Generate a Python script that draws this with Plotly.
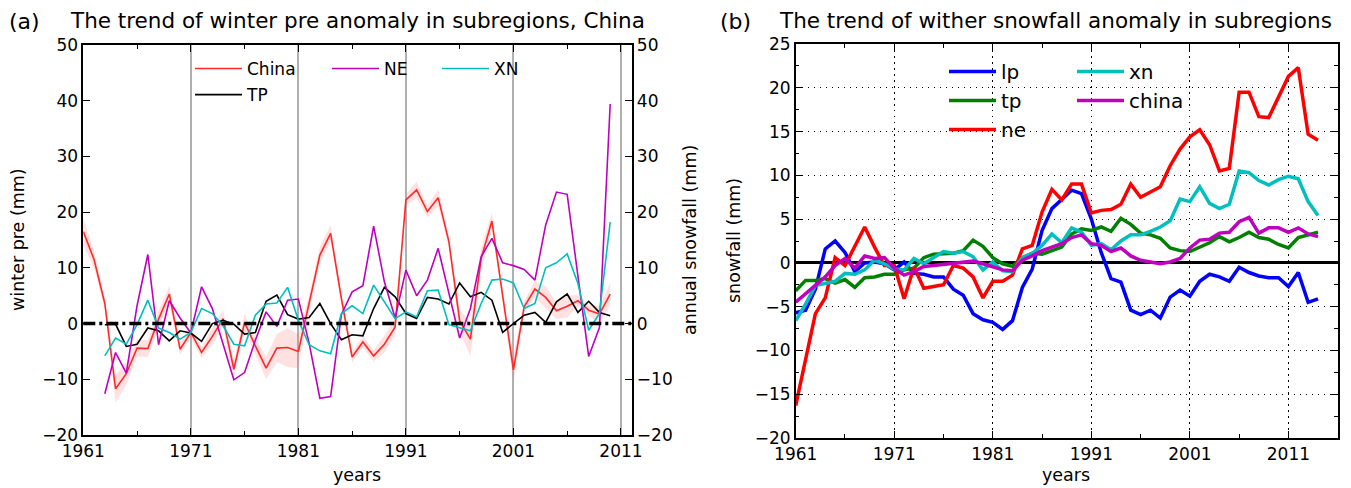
import plotly.graph_objects as go

# ---------------- data: panel (a) ----------------
years_a = list(range(1961, 2011))
years_a2 = list(range(1963, 2011))
china_a = [16.5, 11.5, 3.6, -11.7, -9.0, -4.4, -4.5, 0.8, 5.3, -4.6,
           -1.6, -5.2, -2.3, 0.9, -8.2, 0.2, -4.0, -8.0, -4.4, -4.3,
           -5.0, 3.5, 12.3, 16.2, 4.5, -6.0, -3.3, -5.8, -3.7, -0.6,
           22.2, 24.0, 20.1, 22.6, 14.7, 0.5, -2.8, 11.7, 18.4, 5.0,
           -8.3, 3.0, 6.2, 4.7, 2.3, 3.1, 4.1, 2.4, 1.7, 5.3]
china_spread = [2.5, 1.5, 1.0, 2.5, 2.0, 1.5, 1.5, 1.5, 1.5, 1.0,
                1.0, 1.0, 1.5, 1.5, 1.5, 1.5, 1.5, 2.0, 2.5, 3.5,
                3.0, 1.5, 1.5, 1.5, 1.0, 1.0, 1.0, 1.0, 1.5, 1.5,
                1.0, 1.5, 1.0, 1.5, 1.0, 2.0, 3.0, 2.0, 1.5, 1.0,
                2.5, 1.0, 1.5, 2.0, 1.5, 2.0, 1.0, 1.0, 1.5, 2.0]
ne_a = [-12.6, -5.2, -8.9, 3.2, 12.4, -3.8, 4.1, 1.0, -1.7, 6.6,
        2.7, -3.5, -10.1, -8.8, -3.0, 2.1, -0.5, 4.2, 4.4, -3.5,
        -13.4, -13.1, 1.6, 5.7, 6.8, 17.5, 7.5, 1.0, 9.6, 5.0,
        7.8, 13.5, 5.5, -2.6, 2.7, 12.0, 15.3, 10.9, 10.4, 9.7,
        7.8, 17.7, 23.6, 23.2, 8.5, -5.9, -0.7, 39.4]
xn_a = [-5.8, -2.6, -3.7, -0.2, 4.2, -0.8, -1.6, -2.8, -1.6, 2.7,
        1.8, -0.4, -3.7, -4.0, 1.5, 3.5, 3.7, 6.5, 0.6, -3.8,
        -4.9, -5.4, 1.8, 3.2, 1.8, 6.9, 3.9, 0.9, 2.1, 1.2,
        5.9, 6.0, -0.2, -0.7, -1.3, 3.6, 7.8, 8.0, 7.3, 2.7,
        3.6, 10.0, 10.9, 12.5, 7.2, -1.2, 1.8, 18.2]
tp_a = [-0.2, -0.1, -4.1, -3.7, -0.8, -1.3, -3.1, -1.3, -1.7, -3.2,
        0.0, 0.6, -0.1, -1.9, -1.6, 4.0, 5.1, 1.6, 0.8, 1.1,
        3.6, 0.0, -2.9, -2.0, -2.2, 2.7, 6.5, 4.8, 1.8, 0.9,
        4.7, 4.4, 3.5, 7.3, 4.8, 5.6, 4.2, -1.6, 0.0, 1.5,
        2.0, 0.2, 3.9, 5.3, 2.0, 4.0, 2.0, 1.4]

# ---------------- data: panel (b) ----------------
years_b = list(range(1961, 2015))
lp_b = [-5.7, -5.4, -3.0, 1.6, 2.5, 1.2, -1.0, 0.0, 0.1, -0.1,
        -0.8, 0.1, -1.2, -1.3, -1.6, -1.6, -3.0, -3.7, -5.8, -6.5,
        -6.8, -7.6, -6.6, -2.8, -0.7, 3.7, 6.2, 7.3, 8.3, 7.9,
        5.0, 1.2, -1.8, -2.2, -5.4, -5.9, -5.4, -6.3, -3.9, -3.1,
        -3.8, -2.1, -1.3, -1.6, -2.1, -0.5, -1.1, -1.5, -1.7, -1.7,
        -2.7, -1.1, -4.5, -4.1]
tp_b = [-3.2, -2.0, -2.0, -1.8, -2.3, -1.9, -2.8, -1.7, -1.6, -1.3,
        -1.3, -0.8, -0.6, 0.6, 1.0, 1.1, 1.1, 1.4, 2.6, 1.9,
        0.6, -0.1, -0.4, 0.6, 1.1, 1.0, 1.4, 1.8, 3.3, 3.9,
        3.7, 4.1, 3.6, 5.1, 4.4, 3.4, 3.2, 2.8, 1.7, 1.4,
        1.3, 1.8, 2.3, 3.0, 2.4, 2.9, 3.5, 2.9, 2.7, 2.1,
        1.7, 2.9, 3.2, 3.5]
ne_b = [-16.3, -11.0, -5.8, -4.0, 0.6, -0.3, 1.8, 4.1, 1.8, -0.3,
        -0.3, -4.1, -0.5, -2.9, -2.7, -2.5, -0.3, -0.6, -1.6, -4.0,
        -2.1, -2.1, -1.4, 1.6, 2.0, 5.8, 8.4, 7.2, 9.0, 9.0,
        5.7, 6.0, 6.1, 6.7, 9.0, 7.5, 8.1, 8.7, 11.1, 13.0,
        14.4, 15.2, 13.5, 10.5, 10.8, 19.5, 19.5, 16.7, 16.6, 18.9,
        21.3, 22.3, 14.7, 14.0]
xn_b = [-6.6, -4.7, -2.6, -2.4, -2.1, -1.2, -1.3, -0.8, 0.3, -0.1,
        -0.7, -0.8, 0.5, -0.1, 0.6, 1.3, 1.1, 1.3, 0.7, -0.8,
        0.1, -0.9, -1.0, 0.6, 1.1, 2.0, 3.3, 2.3, 4.0, 3.5,
        2.0, 2.2, 1.5, 2.5, 3.2, 3.2, 3.6, 4.1, 4.8, 7.3,
        7.0, 8.7, 6.8, 6.2, 6.7, 10.5, 10.3, 9.4, 8.9, 9.5,
        9.9, 9.6, 7.0, 5.4]
china_b = [-4.5, -3.5, -2.6, -1.6, -0.3, 0.5, -0.6, 0.8, 0.5, 0.6,
           -0.6, -1.4, -1.0, -0.4, -0.3, -0.2, -0.1, 0.0, 0.2, -0.1,
           -0.4, -0.8, -0.9, 0.3, 0.8, 1.4, 1.8, 2.2, 2.9, 3.2,
           2.2, 2.0, 1.3, 1.7, 0.8, 0.3, 0.1, -0.1, 0.1, 0.5,
           1.7, 2.6, 2.7, 3.4, 3.5, 4.7, 5.2, 3.4, 4.0, 4.0,
           3.5, 4.0, 3.3, 3.0]

xticks = [1961, 1971, 1981, 1991, 2001, 2011]

FONT = "DejaVu Sans"
W, H = 1351, 488


def px_x(p):
    return p / W


def px_y(p):
    return 1 - p / H


fig = go.Figure()

# ---- panel (a) ----
upper = [c + s for c, s in zip(china_a, china_spread)]
lower = [c - s for c, s in zip(china_a, china_spread)]
fig.add_trace(go.Scatter(x=years_a + years_a[::-1], y=upper + lower[::-1],
                         fill="toself", fillcolor="rgba(255,120,120,0.22)",
                         line=dict(width=0), hoverinfo="skip", showlegend=False,
                         xaxis="x", yaxis="y"))
series_a = [
    ("China", years_a, china_a, "#ff2a2a", "legend", "ga1"),
    ("TP", years_a2, tp_a, "#000000", "legend", "ga2"),
    ("NE", years_a2, ne_a, "#bf00bf", "legend2", "ga3"),
    ("XN", years_a2, xn_a, "#00bfbf", "legend3", "ga4"),
]
for name, xs, ys, col, leg, grp in series_a:
    fig.add_trace(go.Scatter(x=xs, y=ys, mode="lines", name=name,
                             line=dict(color=col, width=1.6),
                             legend=leg, legendgroup=grp,
                             xaxis="x", yaxis="y"))
# invisible trace so the right-hand axis of panel (a) is drawn
fig.add_trace(go.Scatter(x=years_a, y=china_a, mode="lines", opacity=0,
                         line=dict(width=0), hoverinfo="skip", showlegend=False,
                         xaxis="x", yaxis="y2"))

# ---- panel (b) ----
series_b = [
    ("lp", lp_b, "#0000ff", "legend4", "gb1"),
    ("tp", tp_b, "#008000", "legend4", "gb2"),
    ("ne", ne_b, "#ff0000", "legend4", "gb3"),
    ("xn", xn_b, "#00bfbf", "legend5", "gb4"),
    ("china", china_b, "#bf00bf", "legend5", "gb5"),
]
for name, ys, col, leg, grp in series_b:
    fig.add_trace(go.Scatter(x=years_b, y=ys, mode="lines", name=name,
                             line=dict(color=col, width=3.5),
                             legend=leg, legendgroup=grp,
                             xaxis="x2", yaxis="y3"))

tickfont = dict(family=FONT, size=17, color="black")
dom_ax = [px_x(83.3), px_x(631.7)]
dom_ay = [px_y(435), px_y(45)]
dom_bx = [px_x(795.7), px_x(1337.7)]
dom_by = [px_y(438), px_y(44)]

axis_common = dict(showline=True, linecolor="black", linewidth=1.5,
                   ticks="inside", tickcolor="black", tickwidth=1.2,
                   ticklen=7, tickfont=tickfont, automargin=False)

fig.update_layout(
    width=W, height=H,
    margin=dict(l=0, r=0, t=0, b=0, autoexpand=False),
    paper_bgcolor="white", plot_bgcolor="white",
    font=dict(family=FONT, color="black"),
    xaxis=dict(domain=dom_ax, anchor="y", range=[1961, 2012],
               tickvals=xticks, ticktext=[str(v) for v in xticks],
               showgrid=True, gridcolor="#b0b0b0", gridwidth=1.5,
               mirror="ticks", zeroline=False,
               minor=dict(tickvals=[1966, 1976, 1986, 1996, 2006],
                          ticks="inside", ticklen=4, tickcolor="black",
                          showgrid=False),
               **axis_common),
    yaxis=dict(domain=dom_ay, anchor="x", range=[-20, 50], dtick=10,
               tick0=0, showgrid=False, zeroline=False, **axis_common),
    yaxis2=dict(domain=dom_ay, anchor="x", overlaying="y", side="right",
                range=[-20, 50], dtick=10, tick0=0, showgrid=False,
                zeroline=False, **axis_common),
    xaxis2=dict(domain=dom_bx, anchor="y3", range=[1961, 2016],
                tickvals=xticks, ticktext=[str(v) for v in xticks],
                showgrid=True, gridcolor="black", gridwidth=1,
                griddash="1.5px,4.5px", mirror="ticks", zeroline=False,
                minor=dict(dtick=5, tick0=1961, ticks="inside", ticklen=4,
                           tickcolor="black", showgrid=False),
                **axis_common),
    yaxis3=dict(domain=dom_by, anchor="x2", range=[-20, 25], dtick=5,
                tick0=0, showgrid=True, gridcolor="black", gridwidth=1,
                griddash="1.5px,4.5px", mirror="ticks",
                minor=dict(dtick=2.5, tick0=0, ticks="inside", ticklen=4,
                           tickcolor="black", showgrid=False),
                zeroline=True, zerolinecolor="black", zerolinewidth=3,
                **axis_common),
)

leg_common = dict(bgcolor="rgba(0,0,0,0)", borderwidth=0, xanchor="left",
                  yanchor="top", orientation="v")
fig.update_layout(
    legend=dict(x=px_x(190), y=px_y(51), font=dict(family=FONT, size=17),
                itemwidth=47, tracegroupgap=1, **leg_common),
    legend2=dict(x=px_x(327), y=px_y(51), font=dict(family=FONT, size=17),
                 itemwidth=47, tracegroupgap=1, **leg_common),
    legend3=dict(x=px_x(437), y=px_y(51), font=dict(family=FONT, size=17),
                 itemwidth=47, tracegroupgap=1, **leg_common),
    legend4=dict(x=px_x(944), y=px_y(52), font=dict(family=FONT, size=20),
                 itemwidth=47, tracegroupgap=0, **leg_common),
    legend5=dict(x=px_x(1072), y=px_y(52), font=dict(family=FONT, size=20),
                 itemwidth=47, tracegroupgap=0, **leg_common),
)

# zero reference dash-dot line in panel (a)
fig.add_shape(type="line", xref="x domain", yref="y", x0=0, x1=1, y0=0, y1=0,
              line=dict(color="black", width=3.5, dash="12px,4px,3px,4px"))

anns = [
    dict(text="(a)", x=px_x(7), y=px_y(22), xanchor="left", yanchor="middle", size=22),
    dict(text="The trend of winter pre anomaly in subregions, China", x=px_x(357),
         y=px_y(20), xanchor="center", yanchor="middle", size=21.5),
    dict(text="(b)", x=px_x(718), y=px_y(22), xanchor="left", yanchor="middle", size=22),
    dict(text="The trend of wither snowfall anomaly in subregions", x=px_x(1055),
         y=px_y(20), xanchor="center", yanchor="middle", size=21.5),
    dict(text="years", x=px_x(357), y=px_y(487), xanchor="center", yanchor="bottom", size=17.5),
    dict(text="years", x=px_x(1066), y=px_y(487), xanchor="center", yanchor="bottom", size=17.5),
]
for a in anns:
    fig.add_annotation(text=a["text"], x=a["x"], y=a["y"], xref="paper", yref="paper",
                       xanchor=a["xanchor"], yanchor=a["yanchor"], showarrow=False,
                       font=dict(family=FONT, size=a["size"], color="black"))
for text, xp, yp in [("winter pre (mm)", 18, 240), ("annual snowfall (mm)", 690, 240),
                     ("snowfall (mm)", 734, 241)]:
    fig.add_annotation(text=text, x=px_x(xp), y=px_y(yp), xref="paper", yref="paper",
                       xanchor="center", yanchor="middle", textangle=-90, showarrow=False,
                       font=dict(family=FONT, size=17.5, color="black"))

fig.write_html("out.html")
